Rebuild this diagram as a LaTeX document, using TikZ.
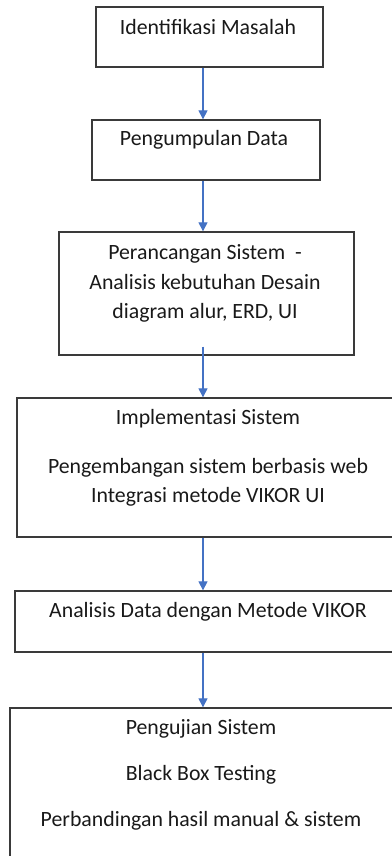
\documentclass[tikz,border=0pt]{standalone}
\usepackage{fontspec}
\setmainfont{Carlito}
\usetikzlibrary{arrows.meta}
\definecolor{flowblue}{HTML}{4472C4}
\definecolor{edge}{HTML}{3A3A3A}

\begin{document}
\begin{tikzpicture}[x=0.025cm,y=-0.025cm,
  box/.style={draw=edge,line width=0.9pt,rectangle,inner sep=0pt},
  txt/.style={align=center,inner sep=0pt,text=black!90,font=\fontsize{15.5}{21}\selectfont},
  flow/.style={draw=flowblue,line width=0.75pt,-{Triangle[width=6.4pt,length=6.4pt]}}]
\useasboundingbox (0,0) rectangle (392,856);
\clip (0,0) rectangle (392,856);
\coordinate (axis) at (203,0);

\node[box,minimum width=5.675cm,minimum height=1.5cm] (b1) at (209.5,37) {};
\node[box,minimum width=5.7cm,minimum height=1.5cm] (b2) at (206,150) {};
\node[box,minimum width=7.375cm,minimum height=3.075cm] (b3) at (206.5,293.5) {};
\node[box,minimum width=9.575cm,minimum height=3.475cm] (b4) at (208.5,467.5) {};
\node[box,minimum width=9.625cm,minimum height=1.525cm] (b5) at (207.5,621.5) {};
\node[box,minimum width=9.75cm,minimum height=4.05cm] (b6) at (205,789) {};

\node[txt] (t1) at (208,27) {Identifikasi Masalah};
\node[txt] (t2) at (204,140) {Pengumpulan Data};
\node[txt] (t3) at (205,283.5) {Perancangan Sistem\ \ -\\Analisis kebutuhan Desain\\diagram alur, ERD, UI};
\node[txt] (t4) at (208,458) {Implementasi Sistem\\[13.8pt]Pengembangan sistem berbasis web\\Integrasi metode VIKOR UI};
\node[txt] (t5) at (208,612) {Analisis Data dengan Metode VIKOR};
\node[txt] (t6) at (201,775) {Pengujian Sistem\\[11.7pt]Black Box Testing\\[11.7pt]Perbandingan hasil manual \& sistem};

\draw[flow] (b1.south -| axis) -- (b2.north -| axis);
\draw[flow] (b2.south -| axis) -- (b3.north -| axis);
\draw[flow] ([yshift=6.4pt]b3.south -| axis) -- (b4.north -| axis);
\draw[flow] (b4.south -| axis) -- (b5.north -| axis);
\draw[flow] (b5.south -| axis) -- (b6.north -| axis);
\end{tikzpicture}
\end{document}
